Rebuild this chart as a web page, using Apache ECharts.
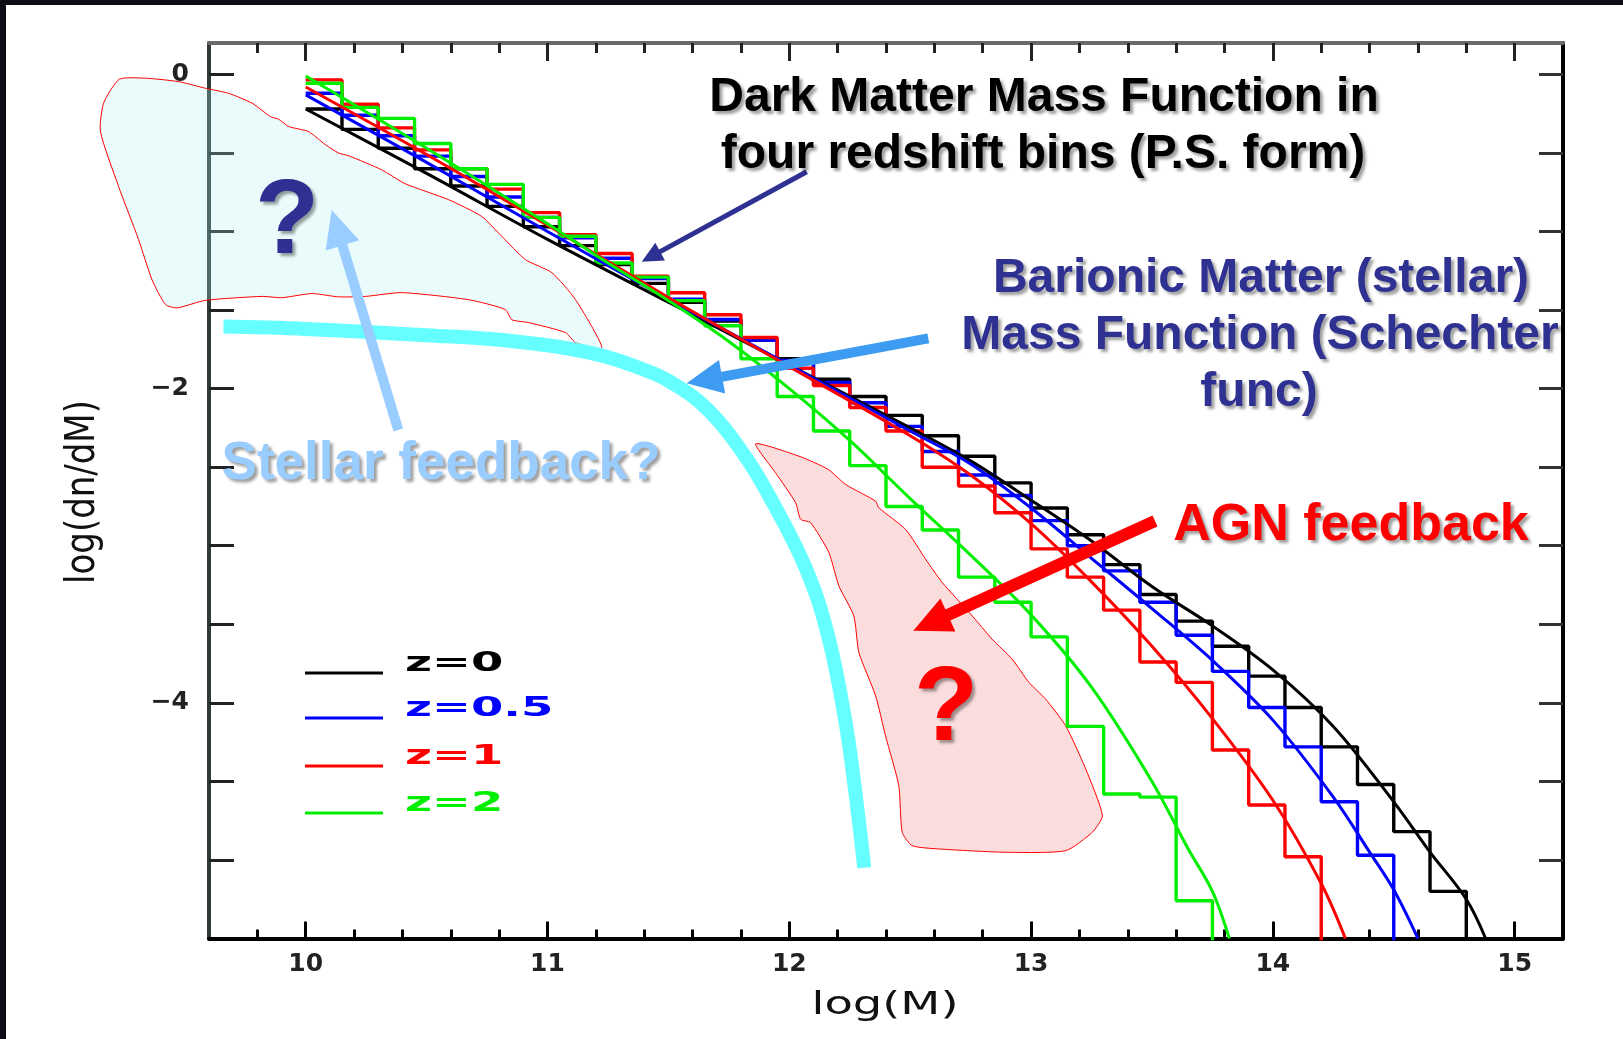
<!DOCTYPE html>
<html><head><meta charset="utf-8">
<script src="https://cdn.jsdelivr.net/npm/echarts@6/dist/echarts.min.js"></script>
<style>
html,body{margin:0;padding:0;width:1623px;height:1039px;overflow:hidden;background:#0d0b16;}
#paper{position:absolute;left:6px;top:5px;right:0;bottom:0;background:#fff;}
#chart{position:absolute;left:0;top:0;width:1623px;height:1039px;}
</style></head><body>
<div id="paper"></div><div id="chart"></div>
<script>
// ---------------- data ----------------
const binEdges = [10.00,10.15,10.30,10.45,10.60,10.75,10.90,11.05,11.20,11.35,11.50,11.65,11.80,11.95,12.10,12.25,12.40,12.55,12.70,12.85,13.00,13.15,13.30,13.45,13.60,13.75,13.90,14.05,14.20,14.35,14.50,14.65,14.80,14.95];

const histZ0  = [-0.22,-0.35,-0.47,-0.60,-0.71,-0.84,-0.97,-1.09,-1.21,-1.33,-1.45,-1.57,-1.69,-1.81,-1.94,-2.05,-2.17,-2.30,-2.43,-2.60,-2.76,-2.93,-3.12,-3.31,-3.48,-3.64,-3.83,-4.03,-4.28,-4.52,-4.82,-5.20];
const histZ05 = [-0.12,-0.26,-0.39,-0.52,-0.65,-0.78,-0.91,-1.04,-1.17,-1.30,-1.43,-1.56,-1.69,-1.82,-1.96,-2.09,-2.24,-2.40,-2.55,-2.68,-2.84,-3.00,-3.16,-3.36,-3.57,-3.80,-4.03,-4.28,-4.63,-4.97];
const histZ1  = [-0.035,-0.19,-0.34,-0.48,-0.60,-0.73,-0.88,-1.02,-1.14,-1.285,-1.39,-1.53,-1.675,-1.87,-1.98,-2.12,-2.27,-2.50,-2.62,-2.79,-3.02,-3.20,-3.41,-3.74,-3.87,-4.30,-4.65,-4.98];
const histZ2  = [-0.056,-0.21,-0.28,-0.44,-0.60,-0.70,-0.91,-1.03,-1.20,-1.29,-1.44,-1.60,-1.81,-2.05,-2.27,-2.49,-2.75,-2.90,-3.20,-3.36,-3.58,-4.15,-4.58,-4.60,-5.26];

const curveZ0  = [[10.0,-0.22],[10.5,-0.63],[11.0,-1.05],[11.5,-1.45],[12.0,-1.85],[12.5,-2.25],[12.75,-2.46],[13.0,-2.71],[13.25,-2.97],[13.5,-3.26],[13.75,-3.51],[14.0,-3.79],[14.25,-4.15],[14.5,-4.63],[14.65,-4.95],[14.8,-5.25],[14.88,-5.5]];
const curveZ05 = [[10.0,-0.13],[10.5,-0.56],[11.0,-1.0],[11.5,-1.43],[12.0,-1.85],[12.5,-2.27],[12.75,-2.48],[13.0,-2.76],[13.25,-3.08],[13.5,-3.4],[13.75,-3.73],[14.0,-4.11],[14.25,-4.6],[14.4,-4.95],[14.5,-5.19],[14.6,-5.5]];
const curveZ1  = [[10.0,-0.08],[10.5,-0.51],[11.0,-0.96],[11.5,-1.42],[12.0,-1.86],[12.5,-2.3],[12.75,-2.55],[13.0,-2.86],[13.25,-3.23],[13.5,-3.64],[13.75,-4.1],[14.0,-4.62],[14.2,-5.15],[14.3,-5.5]];
const curveZ2  = [[10.0,-0.01],[10.5,-0.47],[11.0,-0.95],[11.25,-1.2],[11.5,-1.44],[11.75,-1.70],[12.0,-2.0],[12.25,-2.33],[12.5,-2.70],[12.75,-3.06],[13.0,-3.44],[13.25,-3.9],[13.5,-4.5],[13.65,-4.93],[13.75,-5.2],[13.82,-5.5]];

const schechter = [[9.66,-1.605],[10.0,-1.62],[10.5,-1.66],[10.87,-1.70],[11.2,-1.78],[11.4,-1.88],[11.5,-1.95],[11.64,-2.10],[11.79,-2.37],[11.93,-2.72],[12.07,-3.15],[12.16,-3.57],[12.23,-4.10],[12.27,-4.53],[12.31,-5.05]];

const stellarRegion = [[9.229,-0.031],[9.337,-0.024],[9.475,-0.046],[9.585,-0.088],[9.681,-0.120],[9.778,-0.183],[9.854,-0.268],[9.888,-0.285],[9.930,-0.332],[10.012,-0.364],[10.082,-0.448],[10.137,-0.501],[10.178,-0.518],[10.314,-0.607],[10.412,-0.696],[10.592,-0.798],[10.728,-0.904],[10.811,-1.031],[10.909,-1.179],[11.018,-1.262],[11.116,-1.434],[11.225,-1.741],[11.116,-1.707],[11.074,-1.643],[10.923,-1.580],[10.852,-1.561],[10.826,-1.497],[10.674,-1.434],[10.397,-1.389],[10.247,-1.413],[10.137,-1.416],[10.026,-1.395],[9.902,-1.421],[9.819,-1.413],[9.585,-1.438],[9.468,-1.486],[9.420,-1.465],[9.364,-1.306],[9.309,-1.052],[9.226,-0.713],[9.151,-0.364],[9.164,-0.183]];
const agnRegion = [[11.861,-2.351],[12.040,-2.430],[12.161,-2.514],[12.233,-2.610],[12.357,-2.716],[12.370,-2.758],[12.481,-2.896],[12.564,-3.086],[12.633,-3.235],[12.757,-3.447],[12.839,-3.595],[12.922,-3.722],[12.991,-3.870],[13.060,-3.976],[13.143,-4.146],[13.226,-4.421],[13.295,-4.718],[13.253,-4.824],[13.143,-4.941],[12.895,-4.951],[12.619,-4.930],[12.508,-4.909],[12.467,-4.824],[12.453,-4.528],[12.398,-4.210],[12.357,-3.955],[12.288,-3.680],[12.267,-3.447],[12.205,-3.256],[12.164,-3.044],[12.088,-2.853],[12.047,-2.832],[12.026,-2.726],[11.943,-2.535]];

const xMinorTicks = [9.8,10.0,10.2,10.4,10.6,10.8,11.0,11.2,11.4,11.6,11.8,12.0,12.2,12.4,12.6,12.8,13.0,13.2,13.4,13.6,13.8,14.0,14.2,14.4,14.6,14.8,15.0];
const xMajorTicks = [10,11,12,13,14,15];
const yTicks = [0,-0.5,-1,-1.5,-2,-2.5,-3,-3.5,-4,-4.5,-5];
const yTickLabels = [0,-2,-4];
const seriesNames = ['z=0','z=0.5','z=1','z=2'];
const seriesColors = ['#000000','#0000ff','#ff0000','#00ee00'];

// ---------------- helpers ----------------
const X_MIN = 9.6, X_MAX = 15.2, Y_MIN = -5.5, Y_MAX = 0.2;
function histPairs(vals){
  const pts = vals.map((v,i)=>[binEdges[i], v]);
  pts.push([binEdges[vals.length], Y_MIN - 2]);
  return pts;
}
function polygonRender(points, fill){
  return function(params, api){
    return {type:'polygon', shape:{points: points.map(p=>api.coord(p)), smooth:0.2},
      style:{fill:fill, stroke:'#ff0000', lineWidth:1}};
  };
}
function arrow(x1,y1,x2,y2,w,hl,hw,color){
  const dx=x2-x1, dy=y2-y1, L=Math.hypot(dx,dy), ux=dx/L, uy=dy/L;
  const bx=x2-ux*hl, by=y2-uy*hl, px=-uy, py=ux;
  return [
    {type:'line', z:100, shape:{x1:x1,y1:y1,x2:bx+ux*2,y2:by+uy*2}, style:{stroke:color,lineWidth:w,lineCap:'butt'}},
    {type:'polygon', z:100, shape:{points:[[x2,y2],[bx+px*hw/2,by+py*hw/2],[bx-px*hw/2,by-py*hw/2]]}, style:{fill:color}}
  ];
}
function label(text,x,y,size,color,opts){
  opts = opts || {};
  return Object.assign({type:'text', z:101, x:x, y:y, style:{text:text, x:0, y:0,
    font:'bold '+size+'px "Liberation Sans", Arial, sans-serif', fill:color, align:opts.align||'center', verticalAlign:'middle',
    textShadowColor:opts.noShadow?'transparent':'rgba(0,0,0,0.38)', textShadowBlur:3, textShadowOffsetX:3, textShadowOffsetY:3}}, opts.el||{});
}

const xBase = {type:'value', min:X_MIN, max:X_MAX, interval:0.2, splitLine:{show:false}};
const yBase = {type:'value', min:Y_MIN, max:Y_MAX, interval:0.5, splitLine:{show:false}};

const histSets = [histZ0, histZ05, histZ1, histZ2];
const curveSets = [curveZ0, curveZ05, curveZ1, curveZ2];

const series = [
  {type:'custom', name:'stellar', coordinateSystem:'cartesian2d', renderItem:polygonRender(stellarRegion,'rgba(170,240,240,0.26)'), data:[[10,-1]], clip:false, silent:true, z:1},
  {type:'custom', name:'agn', coordinateSystem:'cartesian2d', renderItem:polygonRender(agnRegion,'rgba(240,100,100,0.22)'), data:[[12.5,-4]], clip:false, silent:true, z:1}
];
histSets.forEach((h,i)=>series.push({type:'line', name:seriesNames[i]+' hist', step:'end', data:histPairs(h), showSymbol:false, symbol:'none',
  lineStyle:{color:seriesColors[i], width:3.4}, clip:true, z:3, silent:true, animation:false}));
curveSets.forEach((c,i)=>series.push({type:'line', name:seriesNames[i], data:c, smooth:0.35, showSymbol:false, symbol:'none',
  lineStyle:{color:seriesColors[i], width:3}, clip:true, z:4, silent:true, animation:false}));
series.push({type:'line', name:'Schechter', data:schechter, smooth:0.4, showSymbol:false, symbol:'none',
  lineStyle:{color:'#66ffff', width:14, cap:'butt'}, clip:false, z:5, silent:true, animation:false});

// ---------------- annotations ----------------
let graphics = [];
graphics = graphics.concat(arrow(806.7,171.7,641.7,261.7,5,21,20,'#2E3192'));
graphics = graphics.concat(arrow(928.3,338.3,686.7,383.3,10,36,34,'#3D9BF2'));
graphics = graphics.concat(arrow(398.3,430,331.7,210,10,37,35,'#99CCFF'));
graphics = graphics.concat(arrow(1155,521,913.3,630.7,12,38,36,'#FF0000'));

graphics.push(label('Dark Matter Mass Function in',1044,98,48,'#000'));
graphics.push(label('four redshift bins (P.S. form)',1043,155,48,'#000'));
graphics.push(label('Barionic Matter (stellar)',1261,279,48,'#2E3192'));
graphics.push(label('Mass Function (Schechter',1260,336,48,'#2E3192'));
graphics.push(label('func)',1259,393,48,'#2E3192'));
graphics.push(label('AGN feedback',1351,526,52,'#FF0000'));
graphics.push(label('Stellar feedback?',441,464,53,'#99CCFF'));
graphics.push(label('?',287,224,105,'#2E3192'));
graphics.push(label('?',946,711,105,'#FF0000'));

// axis names
graphics.push({type:'text', z:50, x:885, y:1006, scaleX:1.45, style:{text:'log(M)', x:0, y:0, align:'center', verticalAlign:'middle', font:'32px "DejaVu Sans", sans-serif', fill:'#111'}});
graphics.push({type:'text', z:50, x:83, y:492, rotation:Math.PI/2, scaleY:1.2, style:{text:'log(dn/dM)', x:0, y:0, align:'center', verticalAlign:'middle', font:'34px "DejaVu Sans", sans-serif', fill:'#111'}});

// legend
const legendY = [673, 718, 766, 813];
seriesNames.forEach((n,i)=>{
  graphics.push({type:'line', z:50, shape:{x1:305,y1:legendY[i],x2:383,y2:legendY[i]}, style:{stroke:seriesColors[i], lineWidth:3}});
  graphics.push({type:'text', z:50, x:405, y:legendY[i]-9, scaleX:1.72, style:{text:n, x:0, y:0, align:'left', verticalAlign:'middle', font:'bold 27px "DejaVu Sans", sans-serif', fill:seriesColors[i]}});
});

const chart = echarts.init(document.getElementById('chart'), null, {renderer:'canvas'});
chart.setOption({
  backgroundColor:'transparent',
  animation:false,
  grid:{left:209, right:60, top:43, bottom:100.5, containLabel:false},
  xAxis:[
    Object.assign({}, xBase, {position:'bottom', axisLine:{show:true,onZero:false,lineStyle:{color:'#000',width:4}},
      axisTick:{show:true,inside:true,length:9,customValues:xMinorTicks,lineStyle:{color:'#000',width:3}},
      axisLabel:{show:true,customValues:xMajorTicks,margin:13,formatter:v=>String(Math.round(v)),fontFamily:'DejaVu Sans',fontWeight:'bold',fontSize:25,color:'#222'}}),
    Object.assign({}, xBase, {position:'bottom', axisLine:{show:false,onZero:false},
      axisTick:{show:true,inside:true,length:17,customValues:xMajorTicks,lineStyle:{color:'#000',width:3}}, axisLabel:{show:false}}),
    Object.assign({}, xBase, {position:'top', axisLine:{show:true,onZero:false,lineStyle:{color:'#6a6a6a',width:4}},
      axisTick:{show:true,inside:true,length:10,customValues:xMinorTicks,lineStyle:{color:'#222',width:3}}, axisLabel:{show:false}}),
    Object.assign({}, xBase, {position:'top', axisLine:{show:false,onZero:false},
      axisTick:{show:true,inside:true,length:18,customValues:xMajorTicks,lineStyle:{color:'#222',width:3}}, axisLabel:{show:false}})
  ],
  yAxis:[
    Object.assign({}, yBase, {position:'left', axisLine:{show:true,onZero:false,lineStyle:{color:'#2f3a3a',width:4}},
      axisTick:{show:true,inside:true,length:25,customValues:yTicks,lineStyle:{color:'#222',width:3}},
      axisLabel:{show:true,customValues:yTickLabels,margin:20,formatter:v=>v===0?'0':'\u2212'+Math.abs(v),fontFamily:'DejaVu Sans',fontWeight:'bold',fontSize:25,color:'#222'}}),
    Object.assign({}, yBase, {position:'right', axisLine:{show:true,onZero:false,lineStyle:{color:'#000',width:4}},
      axisTick:{show:true,inside:true,length:24,customValues:yTicks,lineStyle:{color:'#333',width:3}}, axisLabel:{show:false}})
  ],
  series:series,
  graphic:{elements:graphics}
});
</script></body></html>
